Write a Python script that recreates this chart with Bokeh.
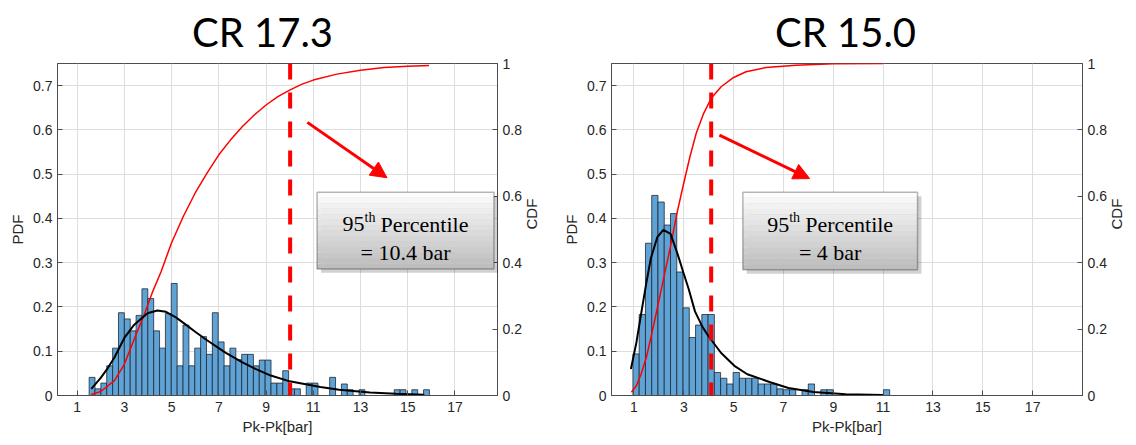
import math
from bokeh.plotting import figure
from bokeh.models import (Range1d, LinearAxis, FixedTicker, Span, Arrow, NormalHead,
                          BoxAnnotation, Label, CustomJSTickFormatter)
from bokeh.layouts import row, column
from bokeh.core.properties import value
from bokeh.embed import file_html
from bokeh.resources import INLINE

# ---------------- data ----------------
x_ticks = [1, 3, 5, 7, 9, 11, 13, 15, 17]
pdf_ticks = [0, 0.1, 0.2, 0.3, 0.4, 0.5, 0.6, 0.7]
cdf_ticks = [0, 0.2, 0.4, 0.6, 0.8, 1]
x_label = "Pk-Pk[bar]"
pdf_label = "PDF"
cdf_label = "CDF"
panel_titles = ["CR 17.3", "CR 15.0"]

# left panel: CR 17.3
l_bin_start = 1.51
l_bin_width = 0.2484
l_hist = [0.041, 0.015, 0.028, 0.067, 0.107, 0.187, 0.173, 0.146, 0.181, 0.241,
          0.219, 0.146, 0.107, 0.185, 0.253, 0.067, 0.159, 0.067, 0.107, 0.133,
          0.093, 0.187, 0.121, 0.067, 0.107, 0.081, 0.093, 0.093, 0.067, 0.080,
          0.080, 0.028, 0.028, 0.056, 0.015, 0.015, 0.0, 0.028, 0.028, 0.0,
          0.0, 0.041, 0.0, 0.026, 0.013, 0.0, 0.013, 0.0, 0.0, 0.0,
          0.0, 0.0, 0.013, 0.013, 0.0, 0.013, 0.0, 0.013]
l_fit_x = [1.6, 2.0, 2.3, 2.58, 3.0, 3.42, 3.98, 4.4, 4.76, 5.2, 5.6, 6.0, 6.44,
           7.28, 8.0, 8.55, 9.2, 10.0, 11.3, 12.1, 13.4, 14.5, 15.7]
l_fit_y = [0.015, 0.04, 0.062, 0.086, 0.13, 0.16, 0.186, 0.192, 0.189, 0.176, 0.16,
           0.144, 0.127, 0.097, 0.075, 0.06, 0.045, 0.032, 0.019, 0.013, 0.007,
           0.004, 0.0015]
l_cdf_x = [1.6, 2.0, 2.58, 3.0, 3.42, 3.84, 4.2, 4.55, 5.0, 5.5, 6.0, 6.5, 7.0,
           7.5, 8.0, 8.5, 9.0, 9.5, 10.0, 10.5, 11.0, 12.0, 13.0, 14.0, 15.0, 15.9]
l_cdf_y = [0.003, 0.012, 0.045, 0.094, 0.17, 0.243, 0.313, 0.372, 0.46, 0.54,
           0.61, 0.67, 0.725, 0.77, 0.81, 0.845, 0.875, 0.9, 0.92, 0.937, 0.95,
           0.968, 0.98, 0.988, 0.992, 0.994]
l_p95 = 10.02
l_note_value = "= 10.4 bar"

# right panel: CR 15.0
r_bin_start = 0.96
r_bin_width = 0.2513
r_hist = [0.094, 0.183, 0.344, 0.452, 0.437, 0.385, 0.411, 0.279, 0.198, 0.131,
          0.159, 0.183, 0.183, 0.052, 0.039, 0.026, 0.052, 0.039, 0.039, 0.039,
          0.026, 0.026, 0.026, 0.015, 0.013, 0.013, 0.0, 0.013, 0.026, 0.0,
          0.013, 0.013, 0.0, 0.0, 0.0, 0.0, 0.0, 0.0, 0.0, 0.0, 0.013]
r_fit_x = [0.88, 1.1, 1.29, 1.5, 1.68, 1.94, 2.18, 2.47, 2.75, 3.0, 3.2, 3.45,
           3.75, 3.98, 4.5, 5.03, 5.55, 6.47, 7.2, 8.2, 9.5, 11.0]
r_fit_y = [0.06, 0.12, 0.185, 0.255, 0.31, 0.358, 0.374, 0.365, 0.32, 0.275, 0.24,
           0.19, 0.155, 0.135, 0.096, 0.067, 0.048, 0.03, 0.017, 0.008, 0.003, 0.001]
r_cdf_x = [0.9, 1.1, 1.29, 1.5, 1.68, 1.9, 2.07, 2.27, 2.47, 2.73, 3.0, 3.25, 3.5,
           3.8, 4.1, 4.5, 5.0, 5.5, 6.3, 7.5, 9.0, 11.0]
r_cdf_y = [0.01, 0.03, 0.065, 0.115, 0.174, 0.25, 0.31, 0.38, 0.45, 0.55, 0.64,
           0.72, 0.79, 0.85, 0.895, 0.93, 0.958, 0.975, 0.988, 0.995, 0.999, 1.0]
r_p95 = 4.1
r_note_value = "= 4 bar"

note_sup_main = "95"
note_sup = "th"
note_rest = "Percentile"

# ---------------- styling ----------------
AX = "#4d4d4d"
TXT = "#262626"
GRID = "#dedede"
BAR = "#5fa2d5"
BAR_EDGE = "#1e2a33"
TICK_FONT = "Liberation Sans"
TITLE_H = 58
PLOT_H = 445 - TITLE_H


def fmt():
    return CustomJSTickFormatter(code="return tick.toString();")


def style_axis(ax):
    ax.major_label_text_font = TICK_FONT
    ax.major_label_text_font_size = "14px"
    ax.major_label_text_color = TXT
    ax.axis_label_text_font = TICK_FONT
    ax.axis_label_text_font_size = "15px"
    ax.axis_label_text_font_style = "normal"
    ax.axis_label_text_color = TXT
    ax.axis_line_color = AX
    ax.major_tick_line_color = AX
    ax.major_tick_in = 5
    ax.major_tick_out = 0
    ax.minor_tick_line_color = None
    ax.formatter = fmt()


def make_panel(bin_start, bin_width, hist, fit_x, fit_y, cdf_x, cdf_y,
               p95, note_value, xr, width, bl, br, box, arrow):
    p = figure(width=width, height=PLOT_H, x_range=Range1d(*xr), y_range=Range1d(0, 0.75),
               output_backend="svg", toolbar_location=None,
               min_border_left=bl, min_border_right=br, min_border_top=5,
               min_border_bottom=50)
    p.extra_y_ranges = {"cdf": Range1d(0, 1)}
    p.background_fill_color = "white"
    p.border_fill_color = "white"
    p.outline_line_color = AX
    p.outline_line_width = 1

    p.xgrid.ticker = FixedTicker(ticks=x_ticks)
    p.ygrid.ticker = FixedTicker(ticks=pdf_ticks)
    p.grid.grid_line_color = GRID
    p.grid.grid_line_width = 1

    style_axis(p.xaxis[0])
    style_axis(p.yaxis[0])
    p.xaxis.ticker = FixedTicker(ticks=x_ticks)
    p.yaxis.ticker = FixedTicker(ticks=pdf_ticks)
    p.xaxis.axis_label = x_label
    p.yaxis.axis_label = pdf_label
    p.xaxis.major_label_standoff = 6
    p.xaxis.axis_label_standoff = 3
    p.yaxis.major_label_standoff = 5
    p.yaxis.axis_label_standoff = 4

    rax = LinearAxis(y_range_name="cdf", ticker=FixedTicker(ticks=cdf_ticks),
                     axis_label=cdf_label)
    style_axis(rax)
    rax.major_label_standoff = 5
    rax.axis_label_standoff = 7
    try:
        rax.axis_label_orientation = math.pi / 2
    except Exception:
        pass
    p.add_layout(rax, "right")

    # histogram
    lefts, rights, tops = [], [], []
    for k, h in enumerate(hist):
        if h > 0:
            lefts.append(bin_start + k * bin_width)
            rights.append(bin_start + (k + 1) * bin_width)
            tops.append(h)
    p.quad(left=lefts, right=rights, bottom=0, top=tops, fill_color=BAR,
           line_color=BAR_EDGE, line_width=0.8)

    # CDF and fit
    p.line(cdf_x, cdf_y, y_range_name="cdf", line_color="#ff0000", line_width=1.5)
    p.line(fit_x, fit_y, line_color="#000000", line_width=2)

    # 95th percentile dashed line
    p.add_layout(Span(location=p95, dimension="height", line_color="#ff0000",
                      line_width=4, line_dash="16 13"))

    # arrow
    ax0, ay0, ax1, ay1 = arrow
    p.add_layout(Arrow(end=NormalHead(size=16, fill_color="#ff0000", line_color="#ff0000"),
                       x_start=ax0, y_start=ay0, x_end=ax1, y_end=ay1,
                       line_color="#ff0000", line_width=3))

    # text box (shadow + gradient + border)
    bx0, bx1, by0, by1 = box
    dx = (xr[1] - xr[0]) / (width - bl - br) * 4
    dy = 0.75 / 336 * 4
    p.add_layout(BoxAnnotation(left=bx0 + dx, right=bx1 + dx, bottom=by0 - dy, top=by1 - dy,
                               fill_color="#000000", fill_alpha=0.18, line_color=None))
    n = 14
    for i in range(n):
        f = i / (n - 1)
        c = int(252 - 62 * f)
        col = "#%02x%02x%02x" % (c, c, c)
        t = by1 - (by1 - by0) * i / n
        b = by1 - (by1 - by0) * (i + 1) / n
        p.add_layout(BoxAnnotation(left=bx0, right=bx1, bottom=b, top=t,
                                   fill_color=col, fill_alpha=1.0, line_color=None))
    p.add_layout(BoxAnnotation(left=bx0, right=bx1, bottom=by0, top=by1,
                               fill_alpha=0, line_color="#111111", line_width=1.5))
    cx = (bx0 + bx1) / 2
    yl1 = by0 + (by1 - by0) * 0.58
    yl2 = by0 + (by1 - by0) * 0.22
    serif = "Liberation Serif"
    p.add_layout(Label(x=cx, y=yl1, x_offset=-63, text=note_sup_main, text_font=serif,
                       text_font_size="22px", text_color="#000000",
                       text_align="left", text_baseline="alphabetic"))
    p.add_layout(Label(x=cx, y=yl1, x_offset=-41, y_offset=7, text=note_sup,
                       text_font=serif, text_font_size="14px", text_color="#000000",
                       text_align="left", text_baseline="alphabetic"))
    p.add_layout(Label(x=cx, y=yl1, x_offset=-25, text=note_rest, text_font=serif,
                       text_font_size="22px", text_color="#000000",
                       text_align="left", text_baseline="alphabetic"))
    p.add_layout(Label(x=cx, y=yl2, text=note_value, text_font=serif,
                       text_font_size="22px", text_color="#000000",
                       text_align="center", text_baseline="alphabetic"))
    return p


# title strip (pixel-based ranges, no axes, no title panel)
tp = figure(frame_width=1136, frame_height=TITLE_H, x_range=Range1d(0, 1136),
            y_range=Range1d(0, TITLE_H), x_axis_type=None, y_axis_type=None,
            title=None, output_backend="svg", toolbar_location=None, min_border=0)
tp.grid.visible = False
tp.outline_line_color = None
tp.background_fill_color = "white"
tp.border_fill_color = "white"
tp.text(x=[262, 845], y=[27, 27], text=panel_titles, text_font=value("Lato"),
        text_font_size="40px", text_color="#000000", text_align="center",
        text_baseline="alphabetic")

pl = make_panel(l_bin_start, l_bin_width, l_hist, l_fit_x, l_fit_y,
                l_cdf_x, l_cdf_y, l_p95, l_note_value, (0.17, 18.8), 560, 57, 63,
                (11.16, 18.65, 0.286, 0.459), (10.75, 0.617, 14.12, 0.492))
pr = make_panel(r_bin_start, r_bin_width, r_hist, r_fit_x, r_fit_y,
                r_cdf_x, r_cdf_y, r_p95, r_note_value, (0.1, 19.0), 576, 43, 53,
                (5.37, 12.38, 0.284, 0.459), (4.43, 0.588, 8.05, 0.49))

layout = column(tp, row(pl, pr))
open("out.html", "w").write(file_html(layout, INLINE))
